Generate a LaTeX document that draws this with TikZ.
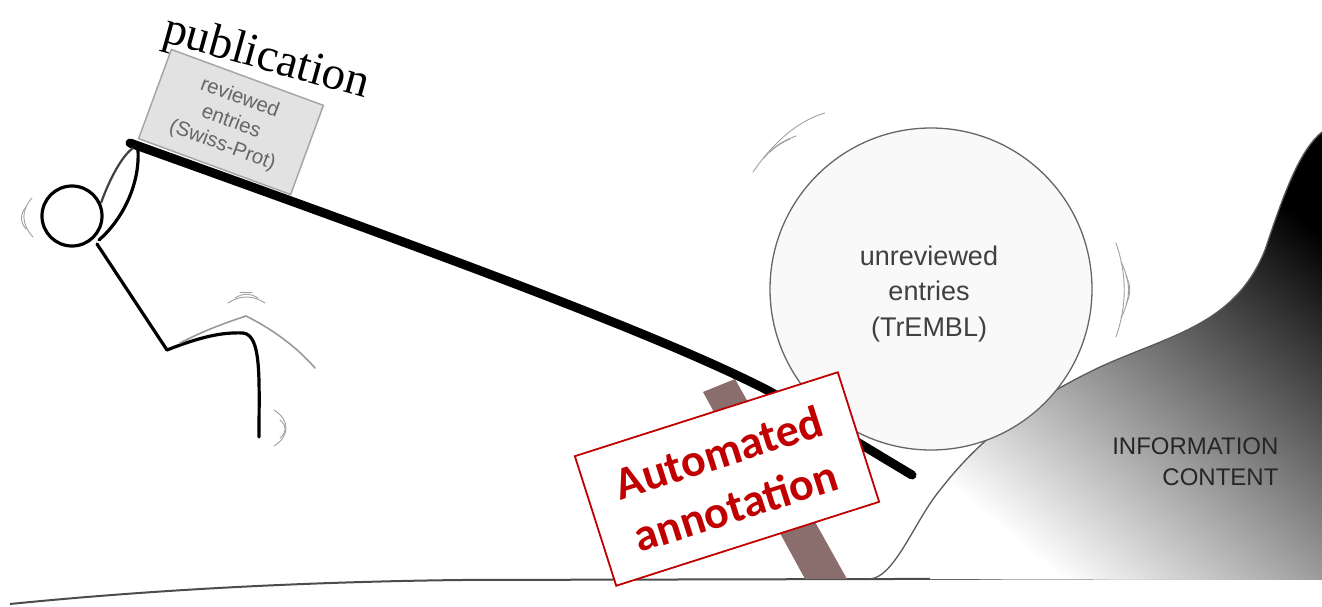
\documentclass[tikz,border=0pt]{standalone}
\usepackage{fontspec}
\setmainfont{Liberation Serif}
\newfontfamily\labelsans{Liberation Sans}
\newfontfamily\stampfont{Carlito}
\definecolor{stampred}{HTML}{C00000}
\definecolor{barbrown}{HTML}{8A6E6E}
\definecolor{boxgray}{HTML}{E2E2E2}
\definecolor{circfill}{HTML}{F9F9F9}
\tikzset{
  limb/.style={line width=3.2pt, line cap=round, line join=round, black},
  ghost/.style={line width=1.6pt, line cap=round, gray!80},
  motion/.style={line width=0.9pt, gray!75, line cap=round},
  lever/.style={line width=9pt, line cap=round, black},
  ground/.style={line width=2pt, gray!60!black},
}
\begin{document}
\begin{tikzpicture}[x=1pt,y=-1pt]
\useasboundingbox (0,0) rectangle (1322,607);

% ground
\draw[ground] (10,604) .. controls (150,590) and (300,582) .. (460,580) -- (1322,578);

% information content hill
\begin{scope}
  \path[clip] (870,579) .. controls (895,577) and (915,520) .. (940,490)
     .. controls (975,445) and (1020,405) .. (1100,367)
     .. controls (1170,335) and (1235,325) .. (1265,250)
     .. controls (1285,190) and (1300,150) .. (1322,132) -- (1322,580) -- cycle;
  \begin{scope}[yscale=-1]
    \shade[shading=axis, top color=black, middle color=gray!78, bottom color=white,
           shading angle=-40] (930,-585) rectangle (1322,-120);
  \end{scope}
\end{scope}
\draw[line width=1.3pt, gray!70!black] (870,579) .. controls (895,577) and (915,520) .. (940,490)
     .. controls (975,445) and (1020,405) .. (1100,367)
     .. controls (1170,335) and (1235,325) .. (1265,250)
     .. controls (1285,190) and (1300,150) .. (1322,132);
\node[font=\labelsans\fontsize{24}{31}\selectfont, text=black!85, align=right, anchor=east]
  (info) at (1282,462) {INFORMATION\\CONTENT};

% unreviewed entries
\node[circle, draw=gray!80!black, line width=1.3pt, fill=circfill, minimum size=322pt]
  (trembl) at (931,289) {};
\node[align=center, text=black!75, font=\labelsans\fontsize{27}{35.5}\selectfont]
  (trembltext) at (929,294) {unreviewed\\entries\\(TrEMBL)};

% motion marks around the rolling entry
\draw[motion] (753,172) .. controls (775,140) and (800,120) .. (825,113);
\draw[motion] (764,158) .. controls (772,148) and (782,141) .. (796,136);
\draw[motion] (770,152) .. controls (776,146) and (783,142) .. (790,139);
\draw[motion] (1116,243) .. controls (1127,275) and (1127,305) .. (1116,337);
\draw[motion] (1121,262) .. controls (1131,282) and (1131,298) .. (1121,318);
\draw[motion] (1126,276) .. controls (1131,285) and (1131,295) .. (1126,304);

% reviewed entries box carried on the lever
\node[draw=gray!70, fill=boxgray, line width=1.5pt, rotate=-20.2,
      minimum width=162pt, minimum height=95pt, align=center, text=black!60,
      font=\labelsans\fontsize{20.5}{25}\selectfont]
  (swiss) at (231,122) {reviewed\\entries\\(Swiss-Prot)};

\node[font=\fontsize{47}{50}\selectfont, rotate=-15.5] (pub) at (266,59) {publication};

% fulcrum bar
\fill[barbrown] (703,392) -- (735,379) -- (847,579) -- (805,579) -- cycle;

% lever
\draw[lever] (130,143) .. controls (400,240) and (650,330) .. (767,390)
   .. controls (830,425) and (870,450) .. (912,475);

% stick figure
\node[circle, draw=black, line width=3.2pt, fill=white, minimum size=60pt] (head) at (72,216) {};
\draw[line width=2.2pt, black!75] (101,203) .. controls (110,178) and (122,156) .. (133,148);
\draw[limb] (99,240) .. controls (122,220) and (140,185) .. (138,150);
\draw[limb] (97,244) -- (167,350);
\draw[limb] (167,350) .. controls (200,337) and (222,332) .. (243,333)
   .. controls (262,335) and (259,380) .. (259,437);
\draw[ghost] (180,343) .. controls (205,330) and (228,322) .. (246,316)
   .. controls (270,328) and (295,345) .. (315,368);
\draw[motion] (32,198) .. controls (21,210) and (21,224) .. (33,237);
\draw[motion] (26,207) .. controls (20,214) and (20,222) .. (26,229);
\draw[motion] (228,303) .. controls (240,295) and (253,295) .. (265,303);
\draw[motion] (235,298) .. controls (243,293) and (250,293) .. (258,298);
\draw[motion] (240,292) -- (252,292);
\draw[motion] (274,410) .. controls (290,420) and (290,436) .. (274,446);
\draw[motion] (280,420) .. controls (287,426) and (287,432) .. (280,438);

% stamp
\node[draw=stampred, line width=1.8pt, fill=white, rotate=17.7,
      minimum width=276pt, minimum height=136pt, align=center, text=stampred,
      font=\stampfont\bfseries\fontsize{46}{56}\selectfont]
  (auto) at (727,479) {Automated\\annotation};
\end{tikzpicture}
\end{document}
